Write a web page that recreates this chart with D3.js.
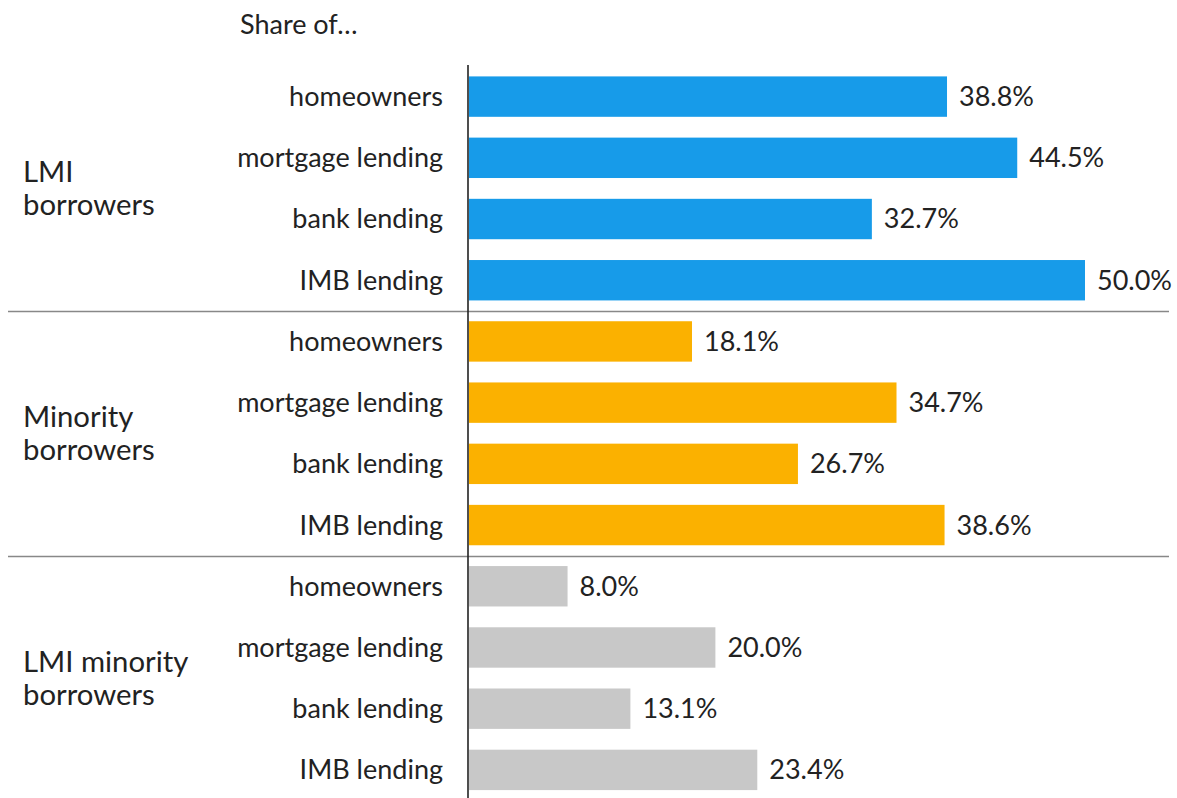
<!DOCTYPE html>
<html>
<head>
<meta charset="utf-8">
<script src="https://cdn.jsdelivr.net/npm/d3@7"></script>
<style>
  html, body { margin: 0; padding: 0; background: #fff; }
  svg text { font-family: Lato, "Noto Sans", sans-serif; fill: #222; }
</style>
</head>
<body>
<svg id="chart" width="1177" height="798"></svg>
<script>
// Groups, categories and shares (percent)
const groups = ["LMI borrowers", "Minority borrowers", "LMI minority borrowers"];
const groupLines = [["LMI", "borrowers"], ["Minority", "borrowers"], ["LMI minority", "borrowers"]];
const categories = ["homeowners", "mortgage lending", "bank lending", "IMB lending"];
const lmiValues = [38.8, 44.5, 32.7, 50.0];
const minorityValues = [18.1, 34.7, 26.7, 38.6];
const lmiMinorityValues = [8.0, 20.0, 13.1, 23.4];
const groupColors = ["#179be9", "#fbb100", "#c8c8c8"];
const headerText = "Share of…";

const seriesValues = [lmiValues, minorityValues, lmiMinorityValues];
const rows = [];
groups.forEach((g, gi) => {
  categories.forEach((c, ci) => {
    rows.push({ key: g + "|" + c, group: gi, category: c, value: seriesValues[gi][ci] });
  });
});

const labelSize = 27;
const groupSize = 29.3;

const svg = d3.select("#chart");
const x0 = 469;
const x = d3.scaleLinear().domain([0, 50]).range([x0, 1085]);
const y = d3.scaleBand()
  .domain(rows.map(d => d.key))
  .range([66, 800.5])
  .paddingInner(0.34)
  .paddingOuter(0.17);

const step = y.step();

// Header
svg.append("text")
  .attr("x", 240).attr("y", 25)
  .attr("dy", "0.35em")
  .attr("font-size", labelSize)
  .text(headerText);

// Group separators
for (let gi = 1; gi < groups.length; gi++) {
  const firstKey = groups[gi] + "|" + categories[0];
  const yy = Math.round(y(firstKey) - (step - y.bandwidth()) / 2) + 0.5;
  svg.append("line")
    .attr("x1", 8).attr("x2", 1169)
    .attr("y1", yy).attr("y2", yy)
    .attr("stroke", "#888").attr("stroke-width", 1.3);
}

// Bars
svg.append("g").selectAll("rect")
  .data(rows)
  .join("rect")
  .attr("x", x(0))
  .attr("y", d => y(d.key))
  .attr("width", d => x(d.value) - x(0))
  .attr("height", y.bandwidth())
  .attr("fill", d => groupColors[d.group]);

// Category labels
svg.append("g").selectAll("text")
  .data(rows)
  .join("text")
  .attr("x", 443)
  .attr("y", d => y(d.key) + y.bandwidth() / 2)
  .attr("dy", "0.35em")
  .attr("text-anchor", "end")
  .attr("font-size", labelSize)
  .text(d => d.category);

// Value labels
svg.append("g").selectAll("text")
  .data(rows)
  .join("text")
  .attr("x", d => x(d.value) + 12)
  .attr("y", d => y(d.key) + y.bandwidth() / 2)
  .attr("dy", "0.35em")
  .attr("font-size", labelSize)
  .text(d => d.value.toFixed(1) + "%");

// Group labels
groups.forEach((g, gi) => {
  const top = y(g + "|" + categories[0]);
  const bottom = y(g + "|" + categories[categories.length - 1]) + y.bandwidth();
  const mid = (top + bottom) / 2;
  const lineH = 33;
  const t = svg.append("text")
    .attr("x", 23)
    .attr("font-size", groupSize);
  groupLines[gi].forEach((ln, li) => {
    t.append("tspan")
      .attr("x", 23)
      .attr("y", mid + (li - (groupLines[gi].length - 1) / 2) * lineH)
      .attr("dy", "0.35em")
      .text(ln);
  });
});

// Vertical axis line
svg.append("line")
  .attr("x1", x0 - 1).attr("x2", x0 - 1)
  .attr("y1", 65).attr("y2", 798)
  .attr("stroke", "#222").attr("stroke-width", 1.6);
</script>
</body>
</html>
